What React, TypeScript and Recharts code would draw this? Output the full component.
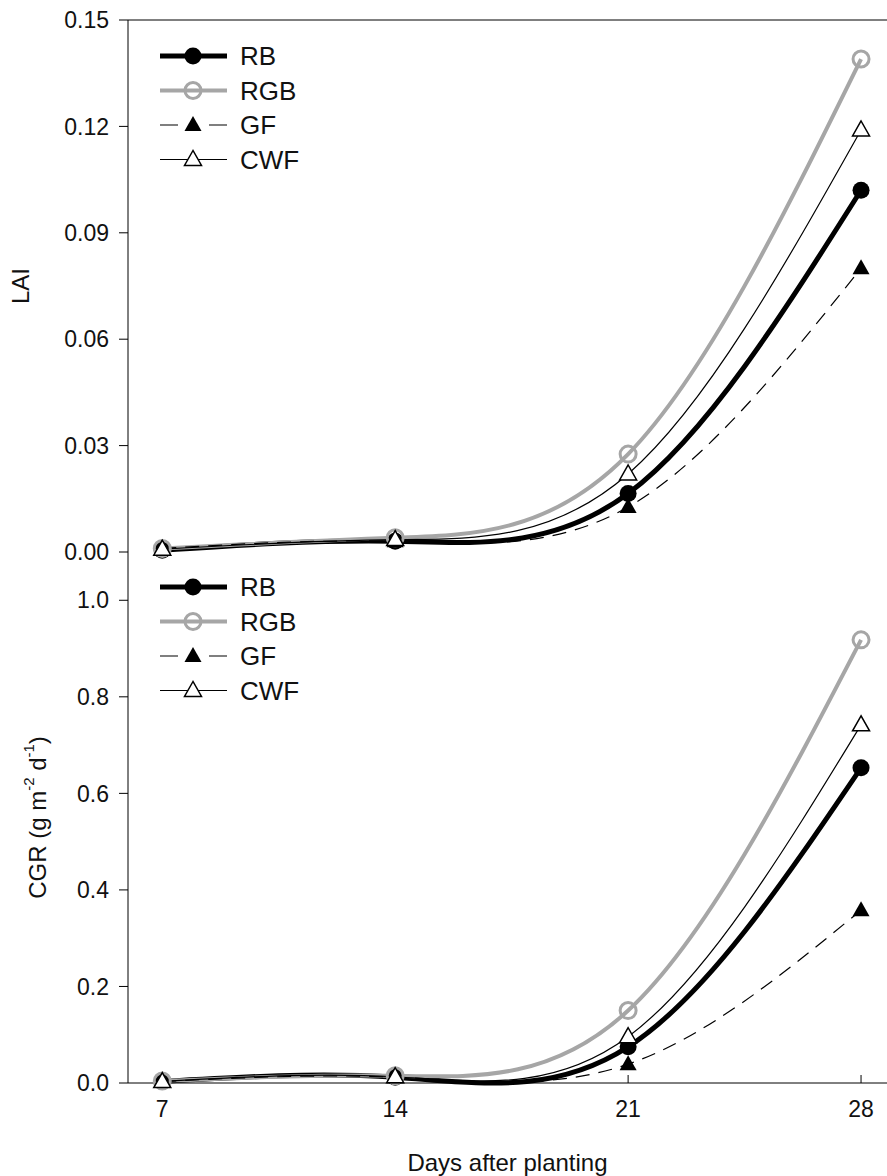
import React from 'react';
import { LineChart, Line, XAxis, YAxis, ReferenceLine, Legend } from 'recharts';

const DAYS = [7, 14, 21, 28];

// LAI panel
const LAI_RB = [0.0005, 0.003, 0.0165, 0.102];
const LAI_RGB = [0.001, 0.004, 0.0276, 0.139];
const LAI_GF = [0.001, 0.003, 0.0127, 0.08];
const LAI_CWF = [0.0008, 0.0035, 0.022, 0.119];
const LAI_TICKS = [0, 0.03, 0.06, 0.09, 0.12, 0.15];

// CGR panel
const CGR_RB = [0.003, 0.012, 0.075, 0.653];
const CGR_RGB = [0.004, 0.015, 0.15, 0.918];
const CGR_GF = [0.003, 0.012, 0.039, 0.358];
const CGR_CWF = [0.003, 0.013, 0.096, 0.742];
const CGR_TICKS = [0, 0.2, 0.4, 0.6, 0.8, 1.0];

const X_TICKS = [7, 14, 21, 28];
const FONT = '"Liberation Sans", Arial, sans-serif';
const GREY = '#a6a6a6';

const SERIES = [
  { key: 'RB', stroke: '#000', width: 5, dash: undefined, legendDash: undefined, marker: 'circleFilled' },
  { key: 'RGB', stroke: GREY, width: 4, dash: undefined, legendDash: undefined, marker: 'circleOpen' },
  { key: 'GF', stroke: '#000', width: 1.2, dash: '14 9', legendDash: '18 31', marker: 'triFilled' },
  { key: 'CWF', stroke: '#000', width: 1.2, dash: undefined, legendDash: undefined, marker: 'triOpen' },
];

const laiData = DAYS.map((d, i) => ({
  day: d,
  RB: LAI_RB[i],
  RGB: LAI_RGB[i],
  GF: LAI_GF[i],
  CWF: LAI_CWF[i],
}));

const cgrData = DAYS.map((d, i) => ({
  day: d,
  RB: CGR_RB[i],
  RGB: CGR_RGB[i],
  GF: CGR_GF[i],
  CWF: CGR_CWF[i],
}));

const Marker = ({ type, cx, cy }: { type: string; cx: number; cy: number }) => {
  if (cx == null || cy == null) return null;
  if (type === 'circleFilled') return <circle cx={cx} cy={cy} r={8.5} fill="#000" />;
  if (type === 'circleOpen')
    return <circle cx={cx} cy={cy} r={8} fill="none" stroke={GREY} strokeWidth={3} />;
  const w = 17;
  const h = 15;
  const pts = `${cx},${cy - h * 0.6} ${cx - w / 2},${cy + h * 0.4} ${cx + w / 2},${cy + h * 0.4}`;
  if (type === 'triFilled') return <polygon points={pts} fill="#000" />;
  return <polygon points={pts} fill="#fff" stroke="#000" strokeWidth={1.5} />;
};

const renderLegend = () => (
  <svg width={200} height={140} style={{ display: 'block', overflow: 'visible' }}>
    {SERIES.map((s, i) => {
      const y = 12 + i * 34.5;
      return (
        <g key={s.key}>
          <line
            x1={0}
            x2={67}
            y1={y}
            y2={y}
            stroke={s.stroke}
            strokeWidth={s.width}
            strokeDasharray={s.legendDash}
          />
          <Marker type={s.marker} cx={33} cy={y} />
          <text x={80} y={y} dominantBaseline="central" fontSize={26} fontFamily={FONT} fill="#111">
            {s.key}
          </text>
        </g>
      );
    })}
  </svg>
);

const AxisTitle = ({ viewBox, x, children }: any) => {
  const cy = viewBox.y + viewBox.height / 2;
  return (
    <text
      x={x}
      y={cy}
      transform={`rotate(-90, ${x}, ${cy})`}
      textAnchor="middle"
      dominantBaseline="central"
      fontSize={24}
      fontFamily={FONT}
      fill="#111"
    >
      {children}
    </text>
  );
};

const LaiLabel = (props: any) => <AxisTitle {...props} x={20}>LAI</AxisTitle>;

const CgrLabel = (props: any) => (
  <AxisTitle {...props} x={37}>
    CGR (g m
    <tspan dy={-9} fontSize={15}>-2</tspan>
    <tspan dy={9}>{' d'}</tspan>
    <tspan dy={-9} fontSize={15}>-1</tspan>
    <tspan dy={9}>)</tspan>
  </AxisTitle>
);

const tickStyle = { fontSize: 23, fontFamily: FONT, fill: '#111' };

const renderLines = () =>
  SERIES.map((s) => (
    <Line
      key={s.key}
      type="natural"
      dataKey={s.key}
      stroke={s.stroke}
      strokeWidth={s.width}
      strokeDasharray={s.dash}
      dot={(p: any) => <Marker key={`${s.key}-${p.index}`} type={s.marker} cx={p.cx} cy={p.cy} />}
      activeDot={false}
      isAnimationActive={false}
    />
  ));

export default function App() {
  return (
    <div style={{ position: 'absolute', left: 0, top: 0, width: 887, height: 1176, background: '#fff' }}>
      <div style={{ position: 'absolute', left: 0, top: 552 }}>
        <LineChart width={887} height={624} data={cgrData} margin={{ top: 0, right: 0, bottom: 0, left: 0 }}>
          <XAxis
            dataKey="day"
            type="number"
            domain={[5.97, 28.78]}
            ticks={X_TICKS}
            allowDataOverflow
            height={93}
            tickSize={-8}
            tickMargin={26}
            tick={tickStyle}
            stroke="#000"
            label={{
              value: 'Days after planting',
              position: 'insideBottom',
              offset: 5,
              style: { fontSize: 24, fontFamily: FONT, fill: '#111' },
            }}
          />
          <YAxis
            domain={[0, 1.1]}
            ticks={CGR_TICKS}
            width={128}
            tickSize={9}
            tickMargin={10}
            tickFormatter={(v: number) => v.toFixed(1)}
            tick={tickStyle}
            stroke="#000"
            label={<CgrLabel />}
          />
          <Legend
            layout="vertical"
            align="center"
            verticalAlign="middle"
            content={renderLegend}
            wrapperStyle={{ left: 160, top: 23, width: 200 }}
          />
          {renderLines()}
        </LineChart>
      </div>
      <div style={{ position: 'absolute', left: 0, top: 0 }}>
        <LineChart width={887} height={576} data={laiData} margin={{ top: 20, right: 0, bottom: 24, left: 0 }}>
          <XAxis
            dataKey="day"
            type="number"
            domain={[5.97, 28.78]}
            ticks={X_TICKS}
            allowDataOverflow
            height={0}
            tickSize={-8}
            tickFormatter={() => ''}
            stroke="#000"
          />
          <YAxis
            domain={[0, 0.15]}
            ticks={LAI_TICKS}
            width={128}
            tickSize={9}
            tickMargin={10}
            tickFormatter={(v: number) => v.toFixed(2)}
            tick={tickStyle}
            stroke="#000"
            label={<LaiLabel />}
          />
          <ReferenceLine y={0.15} stroke="#000" strokeWidth={1} />
          <Legend
            layout="vertical"
            align="center"
            verticalAlign="middle"
            content={renderLegend}
            wrapperStyle={{ left: 160, top: 44, width: 200 }}
          />
          {renderLines()}
        </LineChart>
      </div>
    </div>
  );
}
